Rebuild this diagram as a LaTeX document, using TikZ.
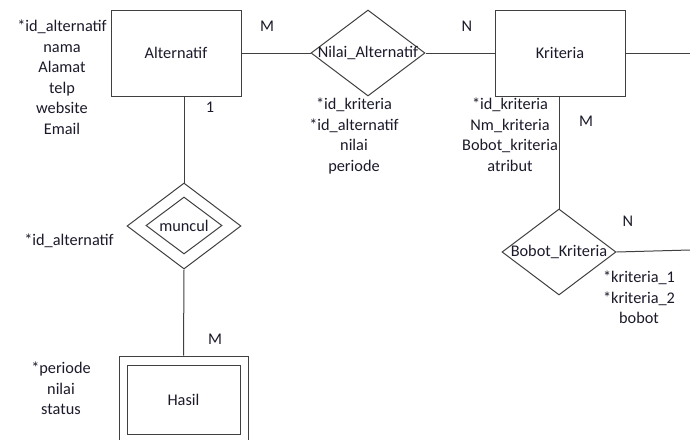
\documentclass[tikz,border=0pt]{standalone}
\usepackage{fontspec}
\setmainfont{Carlito}
\usetikzlibrary{shapes.geometric}
\definecolor{ln}{HTML}{404040}
\definecolor{tx}{HTML}{1A1A2A}
\begin{document}
\begin{tikzpicture}[x=1pt,y=-1pt,
  every node/.style={font=\fontsize{16.3}{20.5}\selectfont, text=tx},
  ent/.style={draw=ln, line width=1pt, rectangle, minimum width=130pt, minimum height=86pt, inner sep=0pt},
  rel/.style={draw=ln, line width=1pt, diamond, minimum width=#1, minimum height=86pt, inner sep=0pt},
  attr/.style={align=center, inner sep=0pt, anchor=north},
  card/.style={inner sep=0pt},
  conn/.style={draw=ln, line width=1pt}]
\useasboundingbox (0,0) rectangle (690,439);
\clip (0,0) rectangle (690,439);
% entities
\node[ent] (alt) at (176,53) {Alternatif};
\node[ent] (kri) at (560,53) {Kriteria};
\node[rel=114pt, label={center:Nilai\_Alternatif}] (nil) at (368,53) {};
\node[rel=114pt] (mun) at (184,226) {};
\node[draw=ln, line width=1pt, diamond, minimum width=76pt, minimum height=57pt, inner sep=0pt, label={center:muncul}] (muni) at (184,225.5) {};
\node[rel=114pt, label={center:Bobot\_Kriteria}] (bob) at (559,252) {};
\node[draw=ln, line width=1pt, rectangle, minimum width=129pt, minimum height=88pt, inner sep=0pt] (has) at (183.5,400) {};
\node[draw=ln, line width=1pt, rectangle, minimum width=113pt, minimum height=69pt, inner sep=0pt] (hasi) at (183.5,399.5) {Hasil};
% right edge coordinates
\coordinate (e1) at (690,53);
\coordinate (e2) at (690,250);
% connectors
\draw[conn] (alt.east) -- (nil.west);
\draw[conn] (nil.east) -- (kri.west);
\draw[conn] (kri.east) -- (e1);
\draw[conn] (mun.north) -- (mun.north |- alt.south);
\draw[conn] (mun.south) -- (has.north);
\draw[conn] (bob.north) -- (bob.north |- kri.south);
\draw[conn] (bob.east) -- (e2);
% attributes
\node[attr] (aalt) at (62,20) {*id\_alternatif\\nama\\Alamat\\telp\\website\\Email};
\node[attr] (anil) at (354,98) {*id\_kriteria\\*id\_alternatif\\nilai\\periode};
\node[attr] (akri) at (510,98) {*id\_kriteria\\Nm\_kriteria\\Bobot\_kriteria\\atribut};
\node[attr] (amun) at (69,234) {*id\_alternatif};
\node[attr] (ahas) at (61,362) {*periode\\nilai\\status};
\node[attr] (abob) at (639,271) {*kriteria\_1\\*kriteria\_2\\bobot};
% cardinalities
\node[card] (c1) at (267,26) {M};
\node[card] (c2) at (467,26) {N};
\node[card] (c3) at (210,107) {1};
\node[card] (c4) at (586,121) {M};
\node[card] (c5) at (215,339) {M};
\node[card] (c6) at (628,221) {N};
\end{tikzpicture}
\end{document}
